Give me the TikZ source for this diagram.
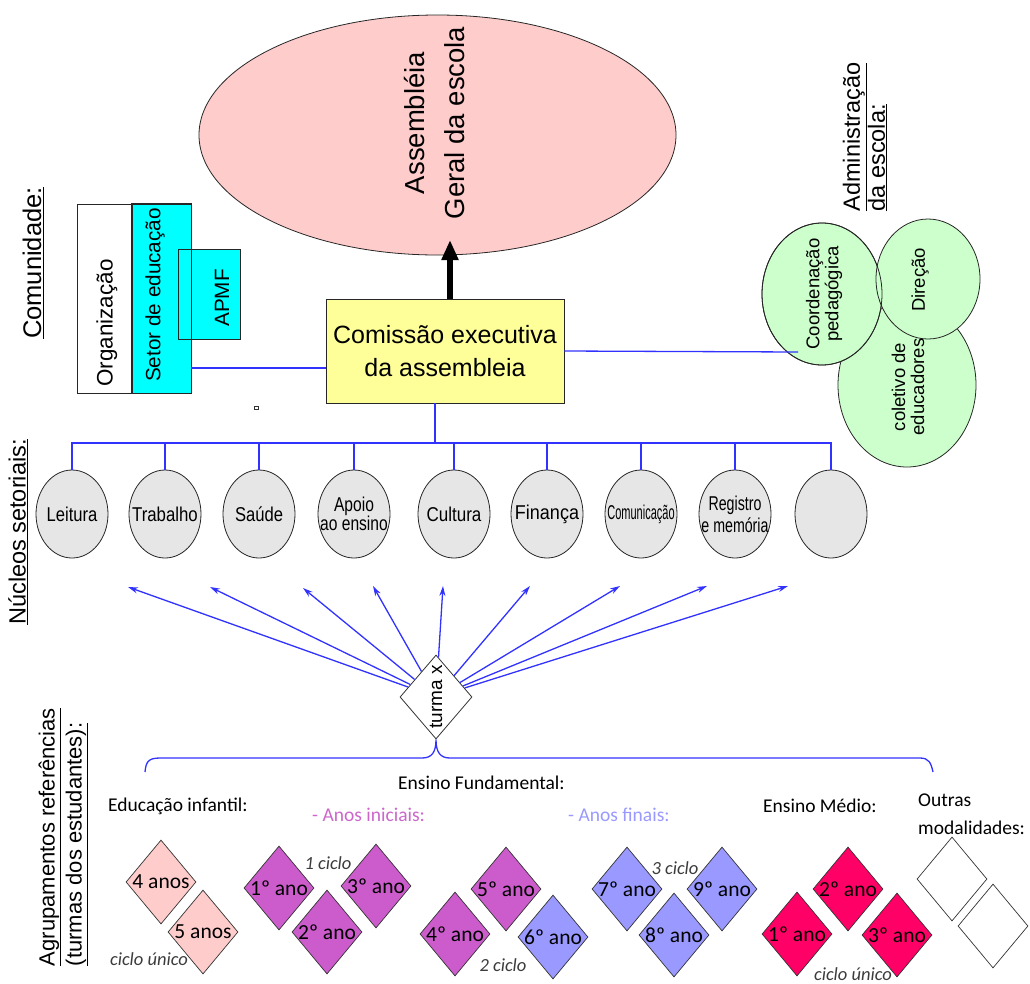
\documentclass[tikz,border=0pt]{standalone}
\usepackage{fontspec}
\usepackage{graphicx}
\setmainfont{Liberation Sans}
\newfontfamily\calfont{Carlito}
\usetikzlibrary{shapes.geometric,arrows.meta}
\definecolor{conn}{RGB}{50,50,255}
\definecolor{pinkf}{RGB}{255,204,204}
\definecolor{yelf}{RGB}{255,255,153}
\definecolor{cyanf}{RGB}{0,255,255}
\definecolor{greenf}{RGB}{204,255,204}
\definecolor{nucgray}{RGB}{230,230,230}
\definecolor{purf}{RGB}{204,92,204}
\definecolor{bluef}{RGB}{153,153,255}
\definecolor{redf}{RGB}{255,0,102}
\definecolor{anosini}{RGB}{204,102,204}
\definecolor{anosfin}{RGB}{153,153,255}
\definecolor{ciclo}{RGB}{60,60,60}
\begin{document}
\begin{tikzpicture}[x=1pt,y=-1pt,
  bl/.style={draw=conn, line width=1.3pt},
  arr/.style={bl, -{Stealth[length=10pt,width=6pt]}},
  shapeline/.style={draw=black!85, line width=0.8pt},
  nuc/.style={ellipse, shapeline, fill=nucgray, minimum width=72pt, minimum height=88pt, inner sep=0pt},
  nuctxt/.style={font=\fontsize{20}{20}\selectfont, align=center},
  grn/.style={ellipse, shapeline, fill=greenf, inner sep=0pt},
  gem/.style={diamond, draw=black!80, line width=0.7pt, minimum width=70pt, minimum height=84pt, inner sep=0pt},
  gemtxt/.style={font=\calfont\fontsize{21.5}{21.5}\selectfont},
  ciclotxt/.style={font=\calfont\itshape\fontsize{18.5}{18.5}\selectfont, text=ciclo},
  lowtxt/.style={font=\calfont\fontsize{19.5}{28}\selectfont, anchor=west, inner sep=0pt},
  heading/.style={rotate=90, font=\fontsize{23.5}{25}\selectfont, align=left}
]
\useasboundingbox (0,0) rectangle (1030,983);

% ---- Assembleia
\node[ellipse, shapeline, fill=pinkf, minimum width=477pt, minimum height=240pt] (ag) at (437.5,135) {};
\node[rotate=90, align=center, font=\fontsize{27.5}{40}\selectfont] (agtxt) at (435,123) {Assembléia\\Geral da escola};

% ---- Comissao
\node[rectangle, shapeline, fill=yelf, minimum width=238pt, minimum height=104pt, inner sep=0pt, align=center,
      font=\fontsize{25}{33}\selectfont] (box) at (445,351) {Comissão executiva\\da assembleia};
\coordinate (tip) at (450,240);
\draw[line width=6pt, -{Triangle[length=20pt,width=16pt]}] (box.north -| tip) -- (tip);

% ---- Comunidade
\node[rectangle, shapeline, fill=white, minimum width=55pt, minimum height=189pt, inner sep=0pt] (org) at (104.5,298.5) {};
\node[rectangle, shapeline, fill=cyanf, minimum width=59pt, minimum height=189pt, inner sep=0pt] (setor) at (161.5,298.5) {};
\node[rectangle, shapeline, fill=cyanf, minimum width=62pt, minimum height=90pt, inner sep=0pt] (apmf) at (209,294) {};
\draw[shapeline] (setor.south west) rectangle (setor.north east);
\node[rotate=90, font=\fontsize{22.4}{25}\selectfont] (orgtxt) at (107,323) {Organização};
\node[rotate=90, font=\fontsize{20.7}{25}\selectfont] (setortxt) at (155,295) {Setor de educação};
\node[rotate=90, font=\fontsize{20.7}{25}\selectfont] (apmftxt) at (222,298) {APMF};
\node[rotate=90, font=\fontsize{25.5}{28}\selectfont] (comtxt) at (33,263) {\underline{Comunidade:}};
\draw[black!80, line width=0.6pt] (254,406.5) rectangle (258,409.5);
\draw[bl] ([yshift=-17pt]box.west) -- ([yshift=-17pt]box.west -| setor.east);

% ---- Administracao
\node[heading] (admtxt) at (865,137) {\underline{Administração}\\\underline{da escola:}};
\node[grn, minimum width=138pt, minimum height=164pt] (col) at (907,385) {};
\node[grn, minimum width=120pt, minimum height=142pt] (coord) at (822,294) {};
\node[grn, minimum width=104pt, minimum height=120pt] (dir) at (928,279) {};
\draw[shapeline] (coord) ellipse (60 and 71);
\node[rotate=90, align=center, font=\fontsize{18.5}{19}\selectfont] (coltxt) at (908,387) {coletivo de\\educadores};
\node[rotate=90, align=center, font=\fontsize{18.5}{19}\selectfont] (coordtxt) at (824,294) {Coordenação\\pedagógica};
\node[rotate=90, font=\fontsize{18.5}{19}\selectfont] (dirtxt) at (920,280) {Direção};
\coordinate (cend) at (798,352);
\draw[bl] (box.east) -- (cend);

% ---- Nucleos
\node[heading] (nuctitle) at (18,532) {\underline{Núcleos setoriais:}};
\node[nuc, label={[nuctxt]center:\scalebox{0.83}[1]{Leitura}}] (n1) at (72,514) {};
\node[nuc, label={[nuctxt]center:\scalebox{0.84}[1]{Trabalho}}] (n2) at (165,514) {};
\node[nuc, label={[nuctxt]center:\scalebox{0.83}[1]{Saúde}}] (n3) at (259,514) {};
\node[nuc, label={[nuctxt]center:{\scalebox{0.78}[1]{Apoio}\\[-1pt]\scalebox{0.78}[1]{ao ensino}}}] (n4) at (354,514) {};
\node[nuc, label={[nuctxt]center:\scalebox{0.85}[1]{Cultura}}] (n5) at (454,514) {};
\node[nuc, label={[nuctxt]center:\scalebox{0.9}[1]{Finança}}] (n6) at (547,514) {};
\node[nuc, label={[nuctxt]center:\scalebox{0.55}[1]{Comunicação}}] (n7) at (641,514) {};
\node[nuc, label={[nuctxt]center:{\scalebox{0.71}[1]{Registro}\\[2pt]\scalebox{0.71}[1]{e memória}}}] (n8) at (735,514) {};
\node[nuc] (n9) at (831,514) {};
\coordinate (bus) at (435,443);
\draw[bl] ([xshift=-10pt]box.south) -- (bus);
\foreach \n in {n1,n2,n3,n4,n5,n6,n7,n8,n9} {\draw[bl] (\n.north) |- (bus);}

% ---- turma x
\node[diamond, draw=black!80, line width=0.8pt, fill=white, minimum width=72pt, minimum height=84pt, inner sep=0pt] (turma) at (436,697) {};
\node[rotate=90, font=\fontsize{19}{20}\selectfont] (turmatxt) at (436,697) {turma x};
\coordinate (h1) at (128,587);
\coordinate (h2) at (210,587);
\coordinate (h3) at (303,588);
\coordinate (h4) at (373,586);
\coordinate (h5) at (443,586);
\coordinate (h6) at (530,586);
\coordinate (h7) at (620,586);
\coordinate (h8) at (707,586);
\coordinate (h9) at (788,586);
\foreach \h in {h1,h2,h3,h4,h5,h6,h7,h8,h9} {\draw[arr] (turma) -- (\h);}

% ---- brace
\coordinate (braceL) at (145,772);
\coordinate (braceR) at (933,772);
\draw[bl] (braceL) .. controls (146,762) and (148,758) .. (160,758) -- (422,758)
  .. controls (432,758) and (436,752) .. (turma.south)
  .. controls (436,752) and (440,758) .. (450,758) -- (920,758)
  .. controls (929,758) and (931,763) .. (braceR);

% ---- Agrupamentos
\node[rotate=90, font=\fontsize{22}{27}\selectfont, align=left] (agrtxt) at (63.5,837) {\underline{Agrupamentos referências}\\\underline{(turmas dos estudantes):}};

% ---- lower texts
\node[lowtxt] (ef) at (398,783) {Ensino Fundamental:};
\node[lowtxt] (ei) at (108,806) {Educação infantil:};
\node[lowtxt, text=anosini] (ai) at (312,815) {- Anos iniciais:};
\node[lowtxt, text=anosfin] (af) at (568,815) {- Anos finais:};
\node[lowtxt] (em) at (763,806) {Ensino Médio:};
\node[lowtxt, align=left] (om) at (918,814) {Outras\\modalidades:};

% ---- diamonds
\node[gem, fill=pinkf, label={[gemtxt]center:4 anos}] (d4) at (161,882) {};
\node[gem, fill=pinkf, label={[gemtxt]center:5 anos}] (d5) at (203,932) {};
\node[gem, fill=purf, label={[gemtxt]center:1º ano}] (f1) at (279,888) {};
\node[gem, fill=purf, label={[gemtxt]center:3º ano}] (f3) at (376,886) {};
\node[gem, fill=purf, label={[gemtxt]center:2º ano}] (f2) at (327,932) {};
\node[gem, fill=purf, label={[gemtxt]center:4º ano}] (f4) at (455,934) {};
\node[gem, fill=purf, label={[gemtxt]center:5º ano}] (f5) at (506,889) {};
\node[gem, fill=bluef, label={[gemtxt]center:6º ano}] (f6) at (553,937) {};
\node[gem, fill=bluef, label={[gemtxt]center:7º ano}] (f7) at (627,889) {};
\node[gem, fill=bluef, label={[gemtxt]center:9º ano}] (f9) at (722,889) {};
\node[gem, fill=bluef, label={[gemtxt]center:8º ano}] (f8) at (674,935) {};
\node[gem, fill=redf, label={[gemtxt]center:1º ano}] (m1) at (797,934) {};
\node[gem, fill=redf, label={[gemtxt]center:2º ano}] (m2) at (848,889) {};
\node[gem, fill=redf, label={[gemtxt]center:3º ano}] (m3) at (897,935) {};
\node[gem, fill=white] (o1) at (952,879) {};
\node[gem, fill=white] (o2) at (993,926) {};

\node[ciclotxt] (c1) at (328,863) {1 ciclo};
\node[ciclotxt] (c0) at (149,959) {ciclo único};
\node[ciclotxt] (c2) at (503,965) {2 ciclo};
\node[ciclotxt] (c3) at (675,868) {3 ciclo};
\node[ciclotxt] (cm) at (853,974) {ciclo único};
\end{tikzpicture}
\end{document}
